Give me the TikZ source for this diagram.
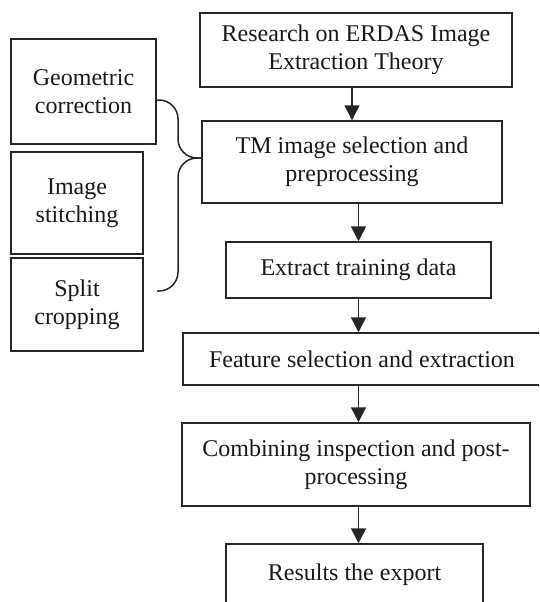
\documentclass[tikz,border=0pt]{standalone}
\usepackage{fontspec}
\setmainfont{Liberation Serif}
\usetikzlibrary{arrows.meta}
\begin{document}
\begin{tikzpicture}[x=1pt,y=-1pt,
  box/.style={draw=black!85,line width=1.5pt,align=center,inner sep=0pt,
    font=\fontsize{24}{28}\selectfont,text=black!90},
  arr/.style={draw=black!85,line width=1.5pt,-{Triangle[length=15pt,width=15pt]}},
  brace/.style={draw=black!85,line width=1.5pt,rounded corners=19pt}]
\useasboundingbox (0,0) rectangle (539,602);
\begin{scope}
\clip (0,0) rectangle (539,602);
\node[box,minimum width=312pt,minimum height=74pt] (res) at (356,50) {Research on ERDAS Image\\Extraction Theory};
\node[box,minimum width=300pt,minimum height=82pt] (tm) at (352,162) {TM image selection and\\preprocessing};
\node[box,minimum width=265pt,minimum height=56pt] (ext) at (358.5,270) {Extract training data};
\node[box,minimum width=358pt,minimum height=52pt] (feat) at (362,359) {Feature selection and extraction};
\node[box,minimum width=348pt,minimum height=83pt] (comb) at (356,464.5) {Combining inspection and post-\\processing};
\node[box,minimum width=257pt,minimum height=62pt] (resu) at (354.5,575) {Results the export};
\node[box,minimum width=145pt,minimum height=105pt] (geo) at (83.5,91.5) {Geometric\\correction};
\node[box,minimum width=132pt,minimum height=102pt] (sti) at (77,203) {Image\\stitching};
\node[box,minimum width=132pt,minimum height=93pt] (spl) at (77,304.5) {Split\\cropping};

\draw[arr] (res.south -| tm.north) -- (tm.north);
\draw[arr] (tm.south -| ext.north) -- (ext.north);
\draw[arr] (ext.south) -- (ext.south |- feat.north);
\draw[arr] (ext.south |- feat.south) -- (ext.south |- comb.north);
\draw[arr] (ext.south |- comb.south) -- (ext.south |- resu.north);

\coordinate (tip) at (tm.west |- 0,158);
\coordinate (bend) at (178,158);
\coordinate (lowend) at (157,291);
\draw[brace] (geo.east |- 0,100) -- (178,100) -- (bend) -- (tip);
\draw[brace] (tip) -- (bend) -- (178,291) -- (lowend);
\end{scope}
\end{tikzpicture}
\end{document}
